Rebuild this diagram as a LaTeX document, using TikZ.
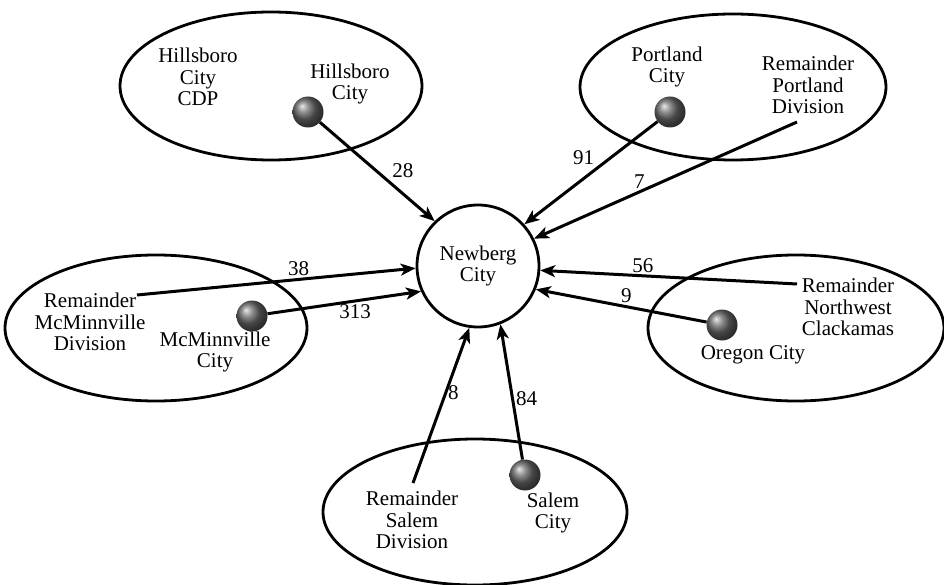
\documentclass[tikz,border=0pt]{standalone}
\usepackage{fontspec}
\setmainfont{Liberation Serif}
\usetikzlibrary{shapes.geometric}
\usetikzlibrary{arrows.meta}

\begin{document}
\begin{tikzpicture}[x=1pt,y=-1pt,
    region/.style={draw,ellipse,line width=2.8pt,inner sep=0pt},
    town/.style={circle,ball color=black!60,minimum size=31pt,inner sep=0pt},
    lbl/.style={align=center,inner sep=0pt,font=\rmfamily\fontsize{21}{21.5}\selectfont},
    flow/.style={-{Stealth[length=15pt,width=12pt,inset=4pt]},line width=3pt},
    num/.style={font=\rmfamily\fontsize{21}{21.5}\selectfont,inner sep=2pt}]
    \useasboundingbox (0,0) rectangle (944,585);
    % regions
    \path (271,86) node [region,minimum width=302pt,minimum height=148pt] (hillsboro) {};
    \path (733,87) node [region,minimum width=306pt,minimum height=146pt] (portland) {};
    \path (156,328) node [region,minimum width=302pt,minimum height=146pt] (mcminnville) {};
    \path (796,328) node [region,minimum width=296pt,minimum height=146pt] (clackamas) {};
    \path (475,512) node [region,minimum width=304pt,minimum height=146pt] (salem) {};
    \path (478,266) node [draw,circle,line width=2.8pt,minimum size=122pt,lbl] (newberg) {Newberg\\City};
    % places
    \path (198,77) node [lbl] (hcdp) {Hillsboro\\City\\CDP};
    \path (350,84) node [lbl] (hcl) {Hillsboro\\City};
    \path (308,112) node [town] (hbc) {};
    \path (667,67) node [lbl] (pcl) {Portland\\City};
    \path (670,112) node [town] (ptc) {};
    \path (808,85) node [lbl] (rpdl) {Remainder\\Portland\\Division};
    \path (90,322) node [lbl] (rmdl) {Remainder\\McMinnville\\Division};
    \path (215,352) node [lbl] (mcl) {McMinnville\\City};
    \path (252,316) node [town] (mcc) {};
    \path (848,307) node [lbl] (rnwl) {Remainder\\Northwest\\Clackamas};
    \path (753,355) node [lbl] (ocl) {Oregon City};
    \path (722,325) node [town] (orc) {};
    \path (412,520) node [lbl] (rsdl) {Remainder\\Salem\\Division};
    \path (553,513) node [lbl] (scl) {Salem\\City};
    \path (525,475) node [town] (slc) {};
    % free ends of the remainder flows
    \coordinate (rpd) at (797,122);
    \coordinate (rmd) at (137,295);
    \coordinate (rnw) at (797,284);
    \coordinate (rsd) at (413,483);
    % flows
    \draw [flow] (hbc) -- (newberg.134) node[pos=.6,above right,num] {28};
    \draw [flow] (ptc) -- (newberg.42) node[pos=.45,above left,num] {91};
    \draw [flow] (rpd) -- (newberg.26) node[pos=.6,above,num] {7};
    \draw [flow] (rmd) -- (newberg.182) node[pos=.58,above,num] {38};
    \draw [flow] (mcc) -- (newberg.204) node[pos=.57,below,num] {313};
    \draw [flow] (rnw) -- (newberg.356) node[pos=.6,above,num] {56};
    \draw [flow] (orc) -- (newberg.338) node[pos=.47,above,num] {9};
    \draw [flow] (rsd) -- (newberg.262) node[pos=.58,right,num,inner sep=1pt] {8};
    \draw [flow] (slc) -- (newberg.291) node[pos=.45,right,num] {84};
\end{tikzpicture}
\end{document}
